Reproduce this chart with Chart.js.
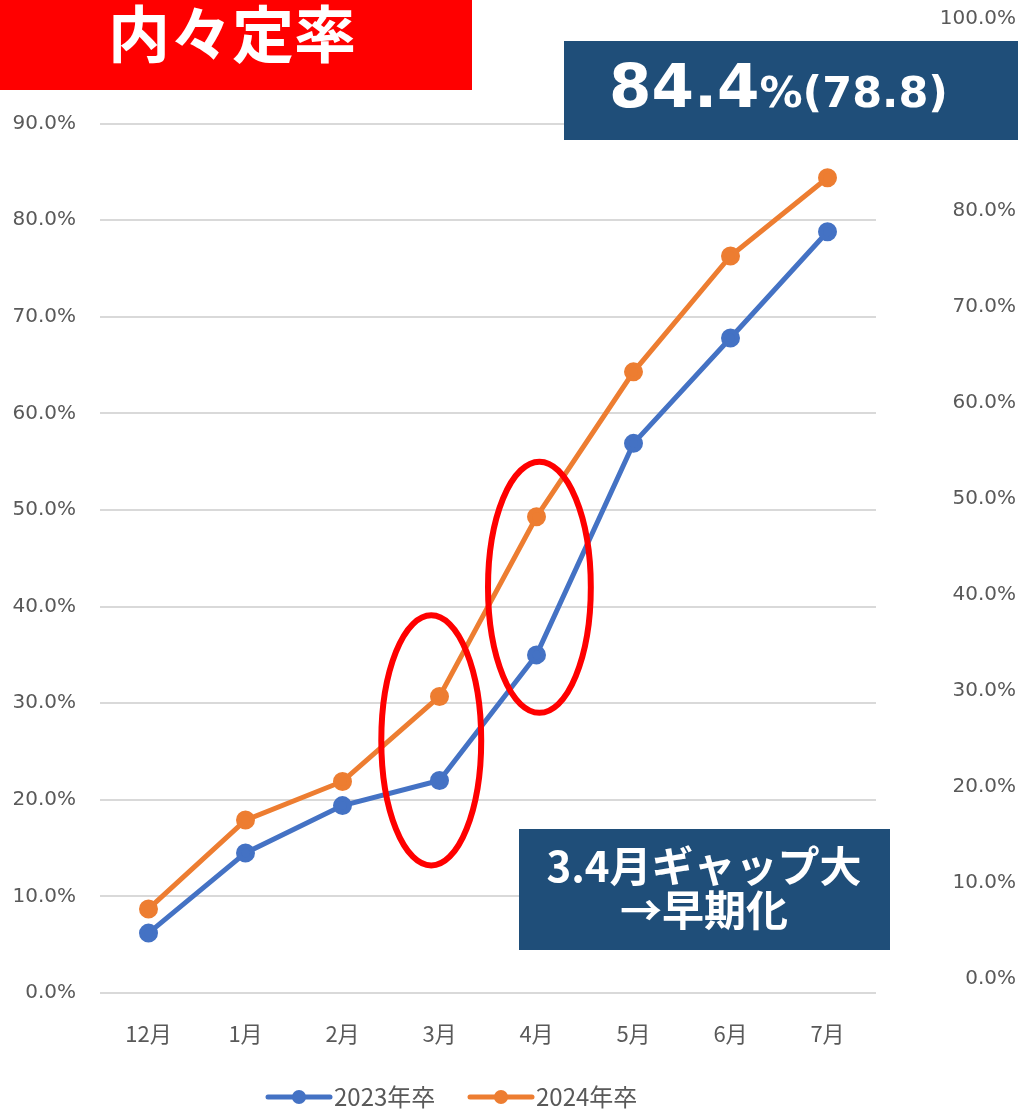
<!DOCTYPE html>
<html>
<head>
<meta charset="utf-8">
<script src="https://cdn.jsdelivr.net/npm/chart.js@4.4.0/dist/chart.umd.min.js"></script>
<style>
  html, body { margin: 0; padding: 0; background: #fff; }
  #wrap { width: 1018px; height: 1111px; }
</style>
</head>
<body>
<div id="wrap"><canvas id="myChart" width="1018" height="1111"></canvas></div>
<script>
const months = ['12月', '1月', '2月', '3月', '4月', '5月', '6月', '7月'];
const rate2023 = [0.062, 0.145, 0.194, 0.220, 0.350, 0.569, 0.678, 0.788];
const rate2024 = [0.087, 0.179, 0.219, 0.307, 0.493, 0.643, 0.763, 0.844];
const leftTicks = [0, 0.1, 0.2, 0.3, 0.4, 0.5, 0.6, 0.7, 0.8, 0.9];
const rightTicks = [0, 0.1, 0.2, 0.3, 0.4, 0.5, 0.6, 0.7, 0.8, 0.9, 1.0];

// red rings around Mar / Apr (category index, value range)
const rings = [
    { xMin: 2.40, xMax: 3.43, yMin: 0.132, yMax: 0.391 },
    { xMin: 3.50, xMax: 4.56, yMin: 0.290, yMax: 0.550 }
];

const BLUE = '#4472C4';
const ORANGE = '#ED7D31';
const GREY = '#595959';
const NAVY = '#1F4E79';
const CJK = '"Noto Sans CJK JP", "Noto Sans", sans-serif';

const pct = v => (v * 100).toFixed(1) + '%';

const overlay = {
    id: 'overlay',
    afterDatasetsDraw(chart) {
        const c = chart.ctx, x = chart.scales.x, y = chart.scales.y;
        c.save();
        c.strokeStyle = '#FF0000';
        c.lineWidth = 6;
        rings.forEach(r => {
            const l = x.getPixelForValue(r.xMin), rr = x.getPixelForValue(r.xMax);
            const t = y.getPixelForValue(r.yMax), b = y.getPixelForValue(r.yMin);
            c.beginPath();
            c.ellipse((l + rr) / 2, (t + b) / 2, (rr - l) / 2, (b - t) / 2, 0, 0, Math.PI * 2);
            c.stroke();
        });
        c.restore();
    },
    afterDraw(chart) {
        const c = chart.ctx;
        c.save();
        // title block
        c.fillStyle = '#FF0000';
        c.fillRect(0, 0, 472, 90);
        c.fillStyle = '#fff';
        c.font = 'bold 62px ' + CJK;
        c.textAlign = 'center';
        c.textBaseline = 'middle';
        c.fillText('内々定率', 232, 34);

        // headline box
        c.fillStyle = NAVY;
        c.fillRect(564, 41, 454, 99);
        c.fillStyle = '#fff';
        c.textAlign = 'left';
        c.textBaseline = 'alphabetic';
        c.font = 'bold 61px "DejaVu Sans", sans-serif';
        c.fillText('84.4', 609, 107);
        const w = c.measureText('84.4').width;
        c.font = 'bold 43px "DejaVu Sans", sans-serif';
        c.fillText('%(78.8)', 609 + w, 107);

        // note box
        c.fillStyle = NAVY;
        c.fillRect(519, 829, 371, 121);
        c.fillStyle = '#fff';
        c.textAlign = 'center';
        c.textBaseline = 'middle';
        c.font = 'bold 42px ' + CJK;
        c.fillText('3.4月ギャップ大', 704, 866);
        c.fillText('→早期化', 704, 910);

        // legend
        const items = [{ x: 268 }, { x: 470 }];
        chart.data.datasets.forEach((ds, i) => {
            const lx = items[i].x, ly = 1097;
            c.strokeStyle = ds.borderColor;
            c.lineWidth = 5;
            c.lineCap = 'round';
            c.beginPath();
            c.moveTo(lx, ly);
            c.lineTo(lx + 62, ly);
            c.stroke();
            c.fillStyle = ds.borderColor;
            c.beginPath();
            c.arc(lx + 31, ly, 7, 0, Math.PI * 2);
            c.fill();
            c.fillStyle = GREY;
            c.font = '24px ' + CJK;
            c.textAlign = 'left';
            c.fillText(ds.label, lx + 66, ly);
        });
        c.restore();
    }
};

const ctx = document.getElementById('myChart').getContext('2d');
var myChart = new Chart(ctx, {
    type: 'line',
    data: {
        labels: months,
        datasets: [{
            label: '2023年卒',
            data: rate2023,
            borderColor: BLUE,
            backgroundColor: BLUE,
            borderWidth: 5,
            pointRadius: 7,
            pointHoverRadius: 7,
            fill: false,
            yAxisID: 'y'
        }, {
            label: '2024年卒',
            data: rate2024,
            borderColor: ORANGE,
            backgroundColor: ORANGE,
            borderWidth: 5,
            pointRadius: 7,
            pointHoverRadius: 7,
            fill: false,
            yAxisID: 'y'
        }]
    },
    options: {
        responsive: false,
        animation: false,
        layout: { padding: { top: 19, right: 2, bottom: 58, left: 0 } },
        plugins: {
            legend: { display: false },
            tooltip: { enabled: false }
        },
        scales: {
            x: {
                offset: true,
                grid: { display: false },
                border: { display: false },
                ticks: { color: GREY, font: { family: CJK, size: 22 }, padding: 19 },
                afterFit: s => { s.height = 60; }
            },
            y: {
                position: 'left',
                min: 0,
                max: 1.0083,
                afterBuildTicks: s => { s.ticks = leftTicks.map(v => ({ value: v })); },
                grid: { color: '#D9D9D9', lineWidth: 2, drawTicks: false },
                border: { display: false },
                ticks: { color: GREY, font: { family: 'DejaVu Sans', size: 20 }, padding: 24, callback: pct },
                afterFit: s => { s.width = 100; s.paddingTop = 0; s.paddingBottom = 0; }
            },
            y2: {
                position: 'right',
                display: true,
                min: -0.0146,
                max: 1.0,
                afterBuildTicks: s => { s.ticks = rightTicks.map(v => ({ value: v })); },
                grid: { display: false, drawTicks: false },
                border: { display: false },
                ticks: { color: GREY, font: { family: 'DejaVu Sans', size: 20 }, crossAlign: 'far', padding: 0, callback: pct },
                afterFit: s => { s.width = 140; }
            }
        }
    },
    plugins: [overlay]
});
</script>
</body>
</html>
